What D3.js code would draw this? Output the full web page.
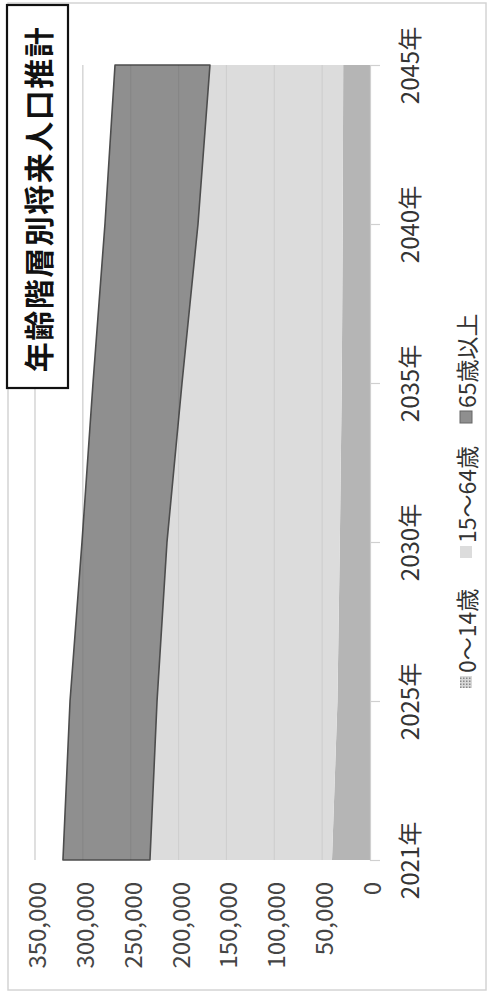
<!DOCTYPE html>
<html>
<head>
<meta charset="utf-8">
<script src="https://cdn.jsdelivr.net/npm/d3@7"></script>
<style>
  html, body { margin: 0; padding: 0; background: #fff; }
  svg text { font-family: "Noto Sans CJK JP", "Noto Sans", sans-serif; }
</style>
</head>
<body>
<div id="chart"></div>
<script>
// 年齢階層別将来人口推計 – stacked area, drawn rotated (years run bottom -> top)

const years = ["2021年", "2025年", "2030年", "2035年", "2040年", "2045年"];
const age0to14 = [39700, 34000, 31500, 29500, 28500, 28000];
const age15to64 = [190200, 188500, 180600, 166900, 151200, 139200];
const age65plus = [90900, 90900, 88800, 93000, 97200, 99200];
const valueTicks = [0, 50000, 100000, 150000, 200000, 250000, 300000, 350000];
const seriesNames = ["0～14歳", "15～64歳", "65歳以上"];
const title = "年齢階層別将来人口推計";

const width = 490;
const height = 993;

const svg = d3.select("#chart")
  .append("svg")
  .attr("width", width)
  .attr("height", height);

// dotted fill used by the 0-14 legend swatch
const pattern = svg.append("defs")
  .append("pattern")
  .attr("id", "dots")
  .attr("width", 3)
  .attr("height", 3)
  .attr("patternUnits", "userSpaceOnUse");
pattern.append("rect").attr("width", 3).attr("height", 3).attr("fill", "#d8d8d8");
pattern.append("rect").attr("width", 1.5).attr("height", 1.5).attr("fill", "#888");

// outer frame of the scanned chart
svg.append("rect")
  .attr("x", 8)
  .attr("y", 3)
  .attr("width", 478)
  .attr("height", 987)
  .attr("fill", "#fff")
  .attr("stroke", "#d4d4d4")
  .attr("stroke-width", 1.5);

// value axis runs right -> left, categories bottom -> top
const x = d3.scaleLinear()
  .domain([0, 350000])
  .range([370, 35]);

const y = d3.scalePoint()
  .domain(years)
  .range([860, 65]);

const rows = years.map((yr, i) => ({
  year: yr,
  [seriesNames[0]]: age0to14[i],
  [seriesNames[1]]: age15to64[i],
  [seriesNames[2]]: age65plus[i]
}));

const series = d3.stack().keys(seriesNames)(rows);

const color = d3.scaleOrdinal()
  .domain(seriesNames)
  .range(["#b5b5b5", "#dcdcdc", "#8f8f8f"]);

// gridlines (behind)
svg.append("g")
  .selectAll("line")
  .data(valueTicks.filter(v => v > 0))
  .enter()
  .append("line")
  .attr("x1", d => x(d))
  .attr("x2", d => x(d))
  .attr("y1", y(years[years.length - 1]))
  .attr("y2", y(years[0]))
  .attr("stroke", "#d9d9d9")
  .attr("stroke-width", 1.2);

const area = d3.area()
  .y(d => y(d.data.year))
  .x0(d => x(d[0]))
  .x1(d => x(d[1]));

svg.append("g")
  .selectAll("path")
  .data(series)
  .enter()
  .append("path")
  .attr("fill", d => color(d.key))
  .attr("stroke", d => d.key === seriesNames[2] ? "#4d4d4d" : "none")
  .attr("stroke-width", 1.6)
  .attr("stroke-linejoin", "round")
  .attr("d", area);

// faint gridlines showing through the areas (like the scan)
svg.append("g")
  .selectAll("line")
  .data(valueTicks.filter(v => v > 0))
  .enter()
  .append("line")
  .attr("x1", d => x(d))
  .attr("x2", d => x(d))
  .attr("y1", y(years[years.length - 1]))
  .attr("y2", y(years[0]))
  .attr("stroke", "#000")
  .attr("stroke-opacity", 0.06)
  .attr("stroke-width", 1.2);

// value axis labels (bottom, rotated)
const xAxisG = svg.append("g")
  .attr("transform", `translate(0,882)`)
  .call(d3.axisBottom(x).tickValues(valueTicks).tickSize(0).tickFormat(d3.format(",")));

xAxisG.select(".domain").remove();
xAxisG.selectAll("text")
  .attr("x", 0)
  .attr("y", 0)
  .attr("dy", null)
  .attr("transform", "rotate(-90)")
  .attr("text-anchor", "end")
  .attr("dominant-baseline", "central")
  .attr("fill", "#444")
  .style("font-size", "24px");

// category axis (right side, rotated labels)
const yAxisG = svg.append("g")
  .attr("transform", `translate(370,0)`)
  .call(d3.axisRight(y).tickSize(10).tickPadding(0));

yAxisG.select(".domain")
  .attr("stroke", "#d0d0d0")
  .attr("stroke-width", 1.2);
yAxisG.selectAll(".tick line")
  .attr("stroke", "#d0d0d0")
  .attr("stroke-width", 1.2);
yAxisG.selectAll("text")
  .attr("x", 0)
  .attr("dy", null)
  .attr("transform", "translate(38,0) rotate(-90)")
  .attr("text-anchor", "middle")
  .attr("dominant-baseline", "central")
  .attr("fill", "#333")
  .style("font-size", "24px");

// legend (rotated, reading bottom -> top)
const legend = svg.append("g")
  .attr("transform", "translate(466,688) rotate(-90)");

const legendOffsets = [0, 130, 265];
seriesNames.forEach((name, i) => {
  const gRow = legend.append("g")
    .attr("transform", `translate(${legendOffsets[i]},0)`);

  gRow.append("rect")
    .attr("x", 0)
    .attr("y", -6)
    .attr("width", 12)
    .attr("height", 12)
    .attr("fill", i === 0 ? "url(#dots)" : color(name))
    .attr("stroke", i === 2 ? "#666" : "none");

  gRow.append("text")
    .attr("x", 15)
    .attr("y", 0)
    .attr("dominant-baseline", "central")
    .attr("fill", "#333")
    .style("font-size", "23px")
    .text(name);
});

// title box
svg.append("rect")
  .attr("x", 7)
  .attr("y", 5)
  .attr("width", 61)
  .attr("height", 383)
  .attr("fill", "#fff")
  .attr("stroke", "#111")
  .attr("stroke-width", 2.2);

svg.append("text")
  .attr("transform", "translate(37,199) rotate(-90)")
  .attr("text-anchor", "middle")
  .attr("dominant-baseline", "central")
  .attr("fill", "#111")
  .style("font-size", "30px")
  .style("font-weight", "bold")
  .style("letter-spacing", "1.5px")
  .text(title);
</script>
</body>
</html>
